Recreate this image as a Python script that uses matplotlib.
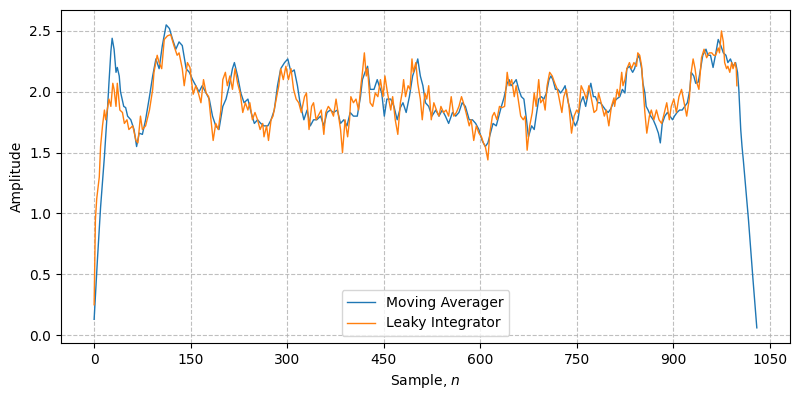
import matplotlib
matplotlib.use("Agg")
import matplotlib.pyplot as plt

ma_n = [0, 5, 10, 16, 21, 23, 26, 28, 31, 34, 36, 39, 41, 46, 49, 52, 57, 62, 66, 70, 75, 80, 86, 91, 96, 101, 106, 112, 117, 122, 127, 132, 137, 143, 148, 153, 158, 163, 168, 174, 179, 184, 189, 194, 200, 205, 210, 215, 218, 223, 228, 233, 239, 244, 249, 254, 259, 264, 270, 275, 280, 285, 290, 296, 301, 306, 311, 316, 320, 326, 331, 336, 341, 346, 352, 357, 362, 367, 372, 378, 383, 388, 393, 398, 403, 409, 414, 417, 421, 425, 429, 435, 440, 443, 447, 451, 455, 461, 466, 471, 476, 480, 485, 490, 495, 500, 503, 507, 511, 515, 520, 525, 531, 536, 541, 546, 551, 557, 562, 567, 572, 577, 583, 588, 593, 598, 603, 608, 612, 616, 620, 625, 629, 633, 637, 642, 645, 648, 652, 656, 660, 664, 668, 672, 675, 680, 684, 687, 691, 695, 699, 703, 707, 710, 713, 717, 721, 725, 729, 732, 737, 741, 744, 748, 752, 756, 760, 764, 768, 772, 776, 779, 783, 787, 791, 795, 799, 803, 807, 812, 817, 821, 825, 828, 832, 837, 840, 844, 847, 851, 853, 856, 858, 861, 865, 869, 873, 877, 880, 883, 887, 891, 895, 899, 902, 906, 910, 914, 918, 922, 926, 928, 932, 935, 939, 942, 946, 951, 954, 958, 962, 966, 970, 974, 978, 982, 985, 989, 993, 997, 1000, 1002, 1005, 1007, 1009, 1017, 1024, 1030]
ma_v = [0.13, 0.61, 1.05, 1.47, 1.88, 2.07, 2.33, 2.44, 2.35, 2.16, 2.2, 2.13, 2.0, 1.88, 1.87, 1.8, 1.77, 1.69, 1.55, 1.66, 1.65, 1.77, 1.96, 2.13, 2.27, 2.19, 2.38, 2.55, 2.52, 2.43, 2.35, 2.41, 2.38, 2.19, 2.16, 2.1, 2.05, 2.0, 2.05, 1.99, 1.94, 1.8, 1.72, 1.69, 1.88, 1.94, 2.05, 2.19, 2.24, 2.13, 1.99, 1.91, 1.94, 1.83, 1.74, 1.77, 1.74, 1.72, 1.72, 1.77, 1.85, 2.05, 2.19, 2.24, 2.27, 2.16, 2.18, 2.05, 1.91, 1.77, 1.85, 1.72, 1.77, 1.77, 1.8, 1.72, 1.83, 1.85, 1.83, 1.85, 1.74, 1.77, 1.72, 1.83, 1.8, 1.8, 1.96, 2.1, 2.16, 2.21, 2.02, 2.02, 2.1, 2.05, 1.99, 1.8, 1.94, 1.94, 1.88, 1.77, 1.87, 1.91, 1.83, 1.96, 2.13, 2.21, 2.27, 2.13, 2.05, 1.91, 1.88, 1.8, 1.85, 1.8, 1.85, 1.8, 1.74, 1.83, 1.8, 1.83, 1.91, 1.88, 1.77, 1.77, 1.74, 1.69, 1.6, 1.55, 1.58, 1.66, 1.74, 1.72, 1.8, 1.88, 1.95, 2.07, 2.1, 2.05, 2.07, 2.1, 2.02, 1.96, 1.94, 1.77, 1.63, 1.72, 1.69, 1.8, 1.94, 1.96, 1.94, 1.99, 2.1, 2.13, 2.1, 2.02, 2.02, 1.99, 2.02, 2.05, 1.91, 1.83, 1.77, 1.72, 1.77, 1.91, 1.96, 1.88, 1.99, 2.07, 1.96, 1.96, 1.91, 1.91, 1.88, 1.85, 1.83, 1.86, 1.91, 1.94, 1.96, 2.02, 1.99, 2.19, 2.21, 2.16, 2.19, 2.27, 2.3, 2.19, 2.07, 1.99, 1.88, 1.85, 1.8, 1.77, 1.72, 1.66, 1.58, 1.74, 1.8, 1.83, 1.8, 1.77, 1.8, 1.83, 1.85, 1.85, 1.88, 1.91, 2.02, 2.16, 2.13, 2.07, 2.08, 2.17, 2.3, 2.35, 2.3, 2.3, 2.2, 2.31, 2.43, 2.38, 2.32, 2.3, 2.24, 2.27, 2.21, 2.24, 2.16, 2.02, 1.69, 1.55, 1.44, 0.95, 0.46, 0.06]

li_n = [0, 1, 2, 4, 8, 10, 13, 16, 18, 23, 26, 29, 31, 34, 36, 40, 44, 47, 51, 54, 60, 65, 68, 72, 75, 80, 86, 91, 93, 98, 101, 105, 109, 114, 119, 124, 129, 132, 137, 140, 145, 149, 151, 154, 158, 162, 166, 170, 174, 178, 181, 185, 189, 193, 197, 200, 204, 207, 211, 215, 219, 223, 227, 231, 235, 239, 242, 246, 250, 254, 258, 262, 264, 268, 271, 275, 278, 283, 287, 290, 294, 298, 302, 306, 310, 314, 318, 322, 327, 330, 334, 338, 341, 345, 348, 353, 357, 360, 364, 368, 372, 376, 380, 383, 386, 390, 394, 397, 399, 403, 407, 411, 415, 417, 420, 423, 425, 429, 433, 437, 441, 445, 449, 452, 456, 461, 464, 468, 472, 476, 479, 481, 484, 488, 491, 494, 496, 500, 503, 507, 510, 514, 517, 520, 524, 528, 532, 536, 539, 543, 547, 551, 555, 559, 563, 567, 571, 574, 578, 583, 586, 590, 594, 598, 602, 605, 608, 612, 615, 619, 622, 626, 630, 634, 638, 642, 645, 649, 653, 656, 660, 663, 667, 670, 673, 677, 681, 684, 687, 691, 694, 698, 701, 704, 708, 712, 716, 720, 724, 727, 730, 734, 738, 742, 746, 750, 753, 757, 762, 765, 769, 773, 777, 781, 784, 788, 793, 796, 800, 804, 808, 809, 813, 816, 820, 822, 825, 828, 832, 835, 839, 843, 845, 848, 851, 853, 856, 859, 863, 866, 870, 874, 878, 882, 885, 890, 894, 897, 901, 905, 909, 913, 917, 921, 925, 928, 931, 934, 937, 940, 944, 948, 952, 956, 960, 963, 966, 970, 972, 975, 978, 980, 983, 985, 988, 991, 993, 996, 998, 999]
li_v = [0.25, 0.6, 0.95, 1.12, 1.3, 1.55, 1.72, 1.85, 1.77, 1.94, 1.88, 2.07, 2.02, 1.88, 2.07, 1.85, 1.83, 1.74, 1.77, 1.69, 1.72, 1.6, 1.58, 1.8, 1.69, 1.72, 1.85, 2.02, 2.16, 2.3, 2.24, 2.19, 2.43, 2.46, 2.47, 2.38, 2.3, 2.32, 2.19, 2.05, 2.24, 2.2, 2.1, 1.98, 2.05, 1.99, 1.91, 2.1, 1.99, 1.96, 1.8, 1.6, 1.74, 1.69, 1.85, 2.1, 2.16, 2.05, 2.13, 2.02, 2.19, 2.07, 1.99, 1.83, 1.91, 1.85, 1.91, 1.77, 1.83, 1.77, 1.69, 1.74, 1.63, 1.72, 1.6, 1.77, 1.8, 1.94, 2.05, 2.19, 2.1, 2.21, 2.1, 2.19, 2.02, 1.94, 1.91, 1.83, 1.96, 1.99, 1.69, 1.88, 1.91, 1.77, 1.8, 1.85, 1.65, 1.83, 1.88, 1.85, 1.8, 1.94, 1.8, 1.69, 1.5, 1.77, 1.63, 1.77, 1.96, 1.91, 1.94, 1.85, 2.07, 2.16, 2.32, 2.13, 2.19, 1.91, 1.88, 1.99, 1.96, 2.1, 1.96, 2.13, 1.99, 1.85, 1.96, 1.77, 1.65, 1.91, 2.0, 2.1, 1.96, 2.05, 2.02, 2.27, 2.16, 2.24, 2.07, 1.94, 1.77, 1.99, 1.94, 2.05, 1.77, 1.91, 1.85, 1.8, 1.88, 1.83, 1.85, 1.8, 1.96, 1.8, 1.83, 1.88, 1.96, 1.91, 1.83, 1.72, 1.77, 1.6, 1.72, 1.66, 1.63, 1.58, 1.55, 1.44, 1.66, 1.8, 1.83, 1.77, 1.88, 1.87, 1.88, 2.16, 2.05, 2.1, 1.96, 2.05, 1.91, 1.8, 1.77, 1.8, 1.52, 1.72, 1.83, 1.99, 1.88, 2.1, 1.91, 1.94, 1.85, 2.05, 2.16, 2.13, 2.07, 2.02, 1.91, 1.83, 1.96, 2.02, 1.88, 1.66, 1.8, 1.85, 1.83, 2.05, 1.99, 1.94, 2.05, 1.94, 1.83, 1.85, 1.99, 1.91, 1.8, 1.85, 1.72, 1.88, 1.95, 1.88, 2.02, 1.96, 2.16, 2.05, 2.1, 2.19, 2.24, 2.19, 2.24, 2.21, 2.32, 2.3, 2.21, 2.05, 1.83, 1.66, 1.8, 1.85, 1.77, 1.85, 1.77, 1.74, 1.8, 1.91, 1.77, 1.88, 1.94, 1.83, 1.96, 2.02, 1.91, 1.8, 1.94, 2.16, 2.27, 2.19, 2.07, 2.02, 2.28, 2.35, 2.28, 2.32, 2.32, 2.3, 2.3, 2.36, 2.32, 2.5, 2.41, 2.24, 2.19, 2.21, 2.16, 2.24, 2.19, 2.24, 2.19, 2.05]

labels = ["Moving Averager", "Leaky Integrator"]
xticks = [0, 150, 300, 450, 600, 750, 900, 1050]

fig, ax = plt.subplots(figsize=(8, 4), dpi=100)
ax.plot(ma_n, ma_v, color="#1f77b4", linewidth=1.0, label=labels[0])
ax.plot(li_n, li_v, color="#ff7f0e", linewidth=1.0, label=labels[1])
ax.set_xticks(xticks)
ax.set_xlabel("Sample, $n$")
ax.set_ylabel("Amplitude")
ax.grid(True, linestyle="--", alpha=0.8)
ax.legend(loc="lower center")
fig.tight_layout(pad=0.7)
fig.savefig("out.png", dpi=100)
